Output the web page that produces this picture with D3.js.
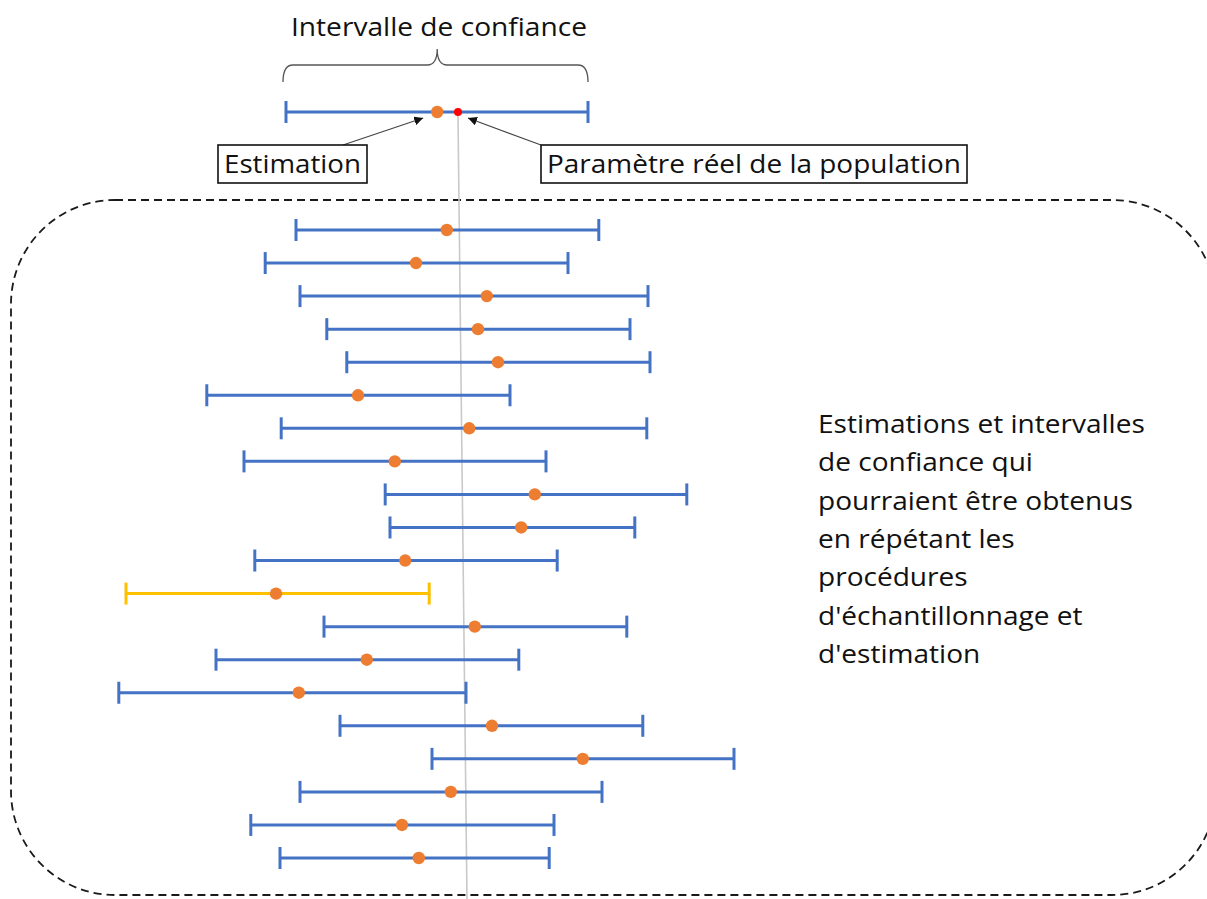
<!DOCTYPE html>
<html>
<head>
<meta charset="utf-8">
<script src="https://cdn.jsdelivr.net/npm/d3@7"></script>
<style>
  html, body { margin: 0; padding: 0; background: #fff; }
  svg { display: block; }
  text { font-family: "Open Sans", Lato, sans-serif; fill: #111; }
</style>
</head>
<body>
<svg id="chart" width="1207" height="899"></svg>
<script>
// ---- data (arbitrary units; true population parameter = 50) ----
const trueParam = 50;
// reference interval shown at the top
const refLow = 28.5, refEst = 47.4, refHigh = 66.25;
// repeated samples
const sampleLow  = [29.75, 25.9, 30.25, 33.6, 36.1, 18.6, 27.9, 23.25, 40.9, 41.5, 24.6, 8.5, 33.25, 19.75, 7.6, 35.25, 46.75, 30.25, 24.1, 27.75];
const sampleEst  = [48.6, 44.75, 53.6, 52.5, 55.0, 37.5, 51.4, 42.1, 59.6, 57.9, 43.4, 27.25, 52.1, 38.6, 30.1, 54.25, 65.6, 49.1, 43.0, 45.1];
const sampleHigh = [67.6, 63.75, 73.75, 71.5, 74.0, 56.5, 73.6, 61.0, 78.6, 72.1, 62.4, 46.4, 71.1, 57.6, 51.0, 73.1, 84.5, 68.0, 62.0, 61.4];
const titleText = "Intervalle de confiance";
const estLabel = "Estimation";
const paramLabel = "Paramètre réel de la population";
const sideText = ["Estimations et intervalles", "de confiance qui", "pourraient être obtenus", "en répétant les", "procédures", "d'échantillonnage et", "d'estimation"];

const samples = sampleLow.map((lo, i) => ({ i, lo, est: sampleEst[i], hi: sampleHigh[i], miss: !(lo <= trueParam && sampleHigh[i] >= trueParam) }));

const svg = d3.select("#chart");
const x = d3.scaleLinear().domain([0, 100]).range([58, 858]);
const y = d3.scalePoint().domain(d3.range(samples.length)).range([230, 858]);
const yTop = 112;

const BLUE = "#4472C4", ORANGE = "#ED7D31", YELLOW = "#FFC000", RED = "#FF0000";

// dashed rounded box
svg.append("rect")
  .attr("x", 11).attr("y", 200).attr("width", 1205).attr("height", 695)
  .attr("rx", 104).attr("ry", 104)
  .attr("fill", "none").attr("stroke", "#1a1a1a").attr("stroke-width", 1.8)
  .attr("stroke-dasharray", "8,5");

// vertical line at true parameter (slightly tilted as in original drawing)
svg.append("line")
  .attr("x1", x(trueParam)).attr("y1", yTop + 4)
  .attr("x2", x(trueParam) + 9).attr("y2", 899)
  .attr("stroke", "#c9c9c9").attr("stroke-width", 1.6);

// title + brace
svg.append("text").attr("x", (x(refLow) + x(refHigh)) / 2 + 2).attr("y", 36)
  .attr("text-anchor", "middle").style("font-size", "25px").attr("textLength", 296).attr("lengthAdjust", "spacingAndGlyphs").text(titleText);

const bl = x(refLow) - 3, br = x(refHigh), bm = x(refEst), bt = 65;
svg.append("path")
  .attr("d", `M${bl},82 Q${bl},${bt} ${bl+10},${bt} L${bm-10},${bt} Q${bm},${bt} ${bm},49 Q${bm},${bt} ${bm+10},${bt} L${br-10},${bt} Q${br},${bt} ${br},82`)
  .attr("fill", "none").attr("stroke", "#555").attr("stroke-width", 1.3);

// arrow marker
svg.append("defs").append("marker")
  .attr("id", "arr").attr("viewBox", "0 0 10 10").attr("refX", 10).attr("refY", 5)
  .attr("markerWidth", 9).attr("markerHeight", 9).attr("markerUnits", "userSpaceOnUse")
  .attr("orient", "auto")
  .append("path").attr("d", "M0,0 L10,5 L0,10 z").attr("fill", "#111");

function drawInterval(g, lo, est, hi, cy, color) {
  g.append("line").attr("x1", x(lo)).attr("x2", x(hi)).attr("y1", cy).attr("y2", cy)
    .attr("stroke", color).attr("stroke-width", 3);
  [lo, hi].forEach(v => g.append("line").attr("x1", x(v)).attr("x2", x(v))
    .attr("y1", cy - 11).attr("y2", cy + 11).attr("stroke", color).attr("stroke-width", 3));
  g.append("circle").attr("cx", x(est)).attr("cy", cy).attr("r", 6.2).attr("fill", ORANGE);
}

// reference interval
const refG = svg.append("g");
drawInterval(refG, refLow, refEst, refHigh, yTop, BLUE);
refG.append("circle").attr("cx", x(trueParam)).attr("cy", yTop).attr("r", 4).attr("fill", RED);

// annotation boxes
function labelBox(txt, bx, bw, tl) {
  svg.append("rect").attr("x", bx).attr("y", 145).attr("width", bw).attr("height", 38)
    .attr("fill", "#fff").attr("stroke", "#111").attr("stroke-width", 1.6);
  svg.append("text").attr("x", bx + bw / 2).attr("y", 173).attr("text-anchor", "middle")
    .style("font-size", "25px").attr("textLength", tl).attr("lengthAdjust", "spacingAndGlyphs").text(txt);
}
svg.append("line").attr("x1", 343).attr("y1", 145).attr("x2", x(refEst) - 14).attr("y2", yTop + 6)
  .attr("stroke", "#444").attr("stroke-width", 1.2).attr("marker-end", "url(#arr)");
svg.append("line").attr("x1", 541).attr("y1", 145).attr("x2", x(trueParam) + 10).attr("y2", yTop + 6)
  .attr("stroke", "#444").attr("stroke-width", 1.2).attr("marker-end", "url(#arr)");
labelBox(estLabel, 218, 149, 137);
labelBox(paramLabel, 541, 426, 414);

// repeated sample intervals
const rowsG = svg.append("g");
samples.forEach(d => {
  drawInterval(rowsG, d.lo, d.est, d.hi, y(d.i), d.miss ? YELLOW : BLUE);
});

// side text (slightly widened to match the original typeface proportions)
sideText.forEach((t, k) => {
  const el = svg.append("text").attr("x", 818).attr("y", 433 + k * 38.3)
    .style("font-size", "25.5px").text(t);
  const w = el.node().getComputedTextLength();
  el.attr("textLength", w * 1.1).attr("lengthAdjust", "spacingAndGlyphs");
});
</script>
</body>
</html>
